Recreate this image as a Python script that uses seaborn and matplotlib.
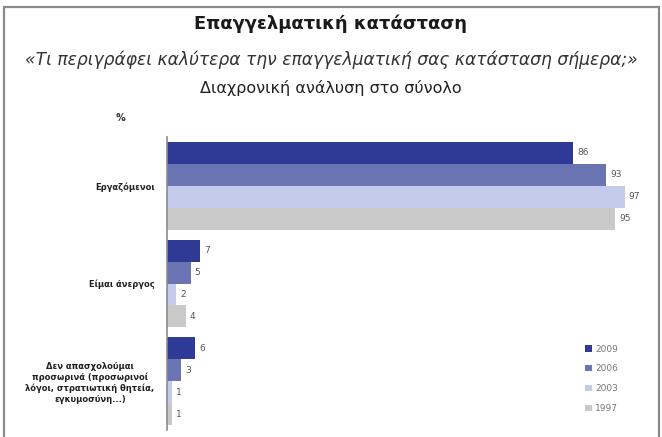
import pandas as pd
import matplotlib.pyplot as plt
import seaborn as sns
from matplotlib.patches import Rectangle

categories = [
    "Εργαζόμενοι",
    "Είμαι άνεργος",
    "Δεν απασχολούμαι\nπροσωρινά (προσωρινοί\nλόγοι, στρατιωτική θητεία,\nεγκυμοσύνη...)",
]
years = ["2009", "2006", "2003", "1997"]
vals_2009 = [86, 7, 6]
vals_2006 = [93, 5, 3]
vals_2003 = [97, 2, 1]
vals_1997 = [95, 4, 1]
colors = ["#2e3a96", "#6b74b2", "#c3caea", "#c9c9c9"]

rows = []
for year, vals in zip(years, [vals_2009, vals_2006, vals_2003, vals_1997]):
    for cat, v in zip(categories, vals):
        rows.append({"category": cat, "year": year, "value": v})
df = pd.DataFrame(rows)

sns.set_style("white")
plt.rcParams['font.family'] = ['DejaVu Sans']

fig = plt.figure(figsize=(6.62, 4.37), dpi=100)
W, H = 662, 437

# frame around the panel
fig.patches.append(Rectangle((4 / W, -0.02), 655 / W, 1 - 7 / H + 0.02, transform=fig.transFigure,
                             fill=False, edgecolor="#8a8a8a", linewidth=1.6))

fig.text(0.5, 1 - 24 / H, "Επαγγελματική κατάσταση", ha="center", va="center",
         fontsize=12.9, fontweight="bold", color="#1a1a1a")
fig.text(0.5, 1 - 60 / H, "«Τι περιγράφει καλύτερα την επαγγελματική σας κατάσταση σήμερα;»",
         ha="center", va="center", fontsize=12.3, style="italic", color="#333333")
fig.text(0.5, 1 - 88 / H, "Διαχρονική ανάλυση στο σύνολο", ha="center", va="center",
         fontsize=11.5, color="#222222")

ax = fig.add_axes([167 / W, 7 / H, 486 / W, 293 / H])
sns.barplot(data=df, y="category", x="value", hue="year", hue_order=years, order=categories,
            palette=colors, orient="h", width=0.9, dodge=True, ax=ax, saturation=1,
            linewidth=0)

for cont in ax.containers:
    ax.bar_label(cont, labels=[f"{int(b.get_width())}" for b in cont], padding=3,
                 fontsize=6.5, color="#555555")

ax.set_xlim(0, 103)
ax.set_ylim(2.5, -0.5)
ax.set_xlabel("")
ax.set_ylabel("")
ax.set_xticks([])
for s in ["top", "right", "bottom"]:
    ax.spines[s].set_visible(False)
ax.spines["left"].set_color("#8c8c8c")
ax.spines["left"].set_linewidth(1.2)
ax.set_yticks([-0.5, 0.5, 1.5, 2.5], minor=True)
ax.tick_params(axis="y", which="minor", length=4, color="#8c8c8c", direction="out")
ax.tick_params(axis="y", which="major", length=0, pad=9)
ax.set_yticks(range(len(categories)))
ax.set_yticklabels(categories, fontsize=6, fontweight="bold", color="#222222",
                   multialignment="center")

fig.text(120 / W, 1 - 118 / H, "%", ha="center", va="center", fontsize=7,
         fontweight="bold", color="#333333")

ax.legend(loc="lower right", bbox_to_anchor=(0.945, 0.03), frameon=False, fontsize=6.5,
          handlelength=0.7, handleheight=0.7, handletextpad=0.4, labelspacing=1.2,
          labelcolor="#777777")

plt.savefig("out.png", dpi=100)
